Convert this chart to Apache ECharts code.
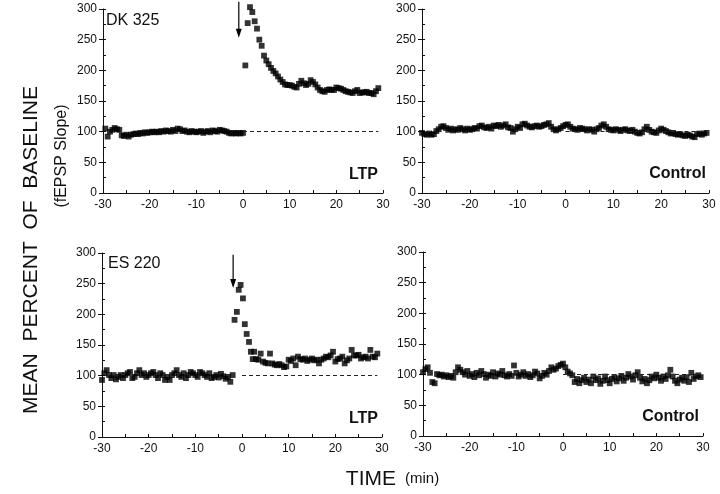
<!DOCTYPE html>
<html><head><meta charset="utf-8">
<script src="https://cdn.jsdelivr.net/npm/echarts@6/dist/echarts.min.js"></script>
<style>html,body{margin:0;padding:0;background:#fff}#c{width:720px;height:494px}</style>
</head><body><div id="c"></div>
<script>
// ---- data (MEAN PERCENT OF BASELINE, fEPSP slope; one sample every 30 s) ----
const sampleStepMin = 0.5;
const yTickValues = [0, 50, 100, 150, 200, 250, 300];
const timeTickValues = [-30, -20, -10, 0, 10, 20, 30];
const panelNames = ['DK 325', 'ES 220'];
const conditionNames = ['LTP', 'Control'];
const baselineRef = 100;

// DK 325 LTP
const dkBaselineStart = -29.5;
const dkBaseline = [105, 92, 100, 103, 106, 104, 103, 94, 93, 95,
  92, 95, 96, 97, 96, 98, 97, 99, 98, 99,
  100, 99, 100, 99, 101, 100, 102, 101, 100, 103,
  101, 105, 104, 101, 102, 100, 99, 101, 100, 99,
  100, 101, 98, 100, 101, 99, 102, 101, 100, 103,
  102, 101, 100, 98, 97, 98, 97, 98, 97, 98];
const dkPostStart = 0.5;
const dkPost = [208, 277, 303, 295, 280, 268, 250, 240, 224, 216, 210, 204, 199, 195, 190, 185, 181,
  177, 176, 176, 175, 173, 172, 178, 183, 179, 176, 178, 184, 181, 177, 172, 168, 166, 165, 168, 169,
  168, 168, 172, 171, 170, 168, 166, 165, 164, 163, 166, 168, 163, 164, 164, 165, 163, 163, 161, 166, 171];
const dkArrow = [-0.9, 312, 253]; // time, top value, tip value

// DK 325 Control
const dkControlStart = -30;
const dkControl = [98, 96, 95, 97, 95, 96,
  101, 104, 108, 109, 106,
  103, 105, 102, 104, 103, 106, 104, 102, 105, 103, 104, 106, 105,
  109, 110, 107, 106, 108, 105,
  110, 109, 111, 108, 110, 112, 107, 106, 100,
  104, 108, 106,
  112, 113, 110,
  108, 107, 109, 110, 108, 109, 111, 112,
  114, 108, 104,
  102, 104, 106,
  109, 111, 112, 108,
  105, 104, 103, 106, 105, 104, 102, 104,
  103, 100, 104,
  106, 110, 112,
  108, 104, 103, 102, 104, 103, 101, 103,
  104, 102, 101, 103,
  100, 98, 97, 99,
  104, 108,
  103, 100, 99, 98,
  102, 105, 103, 101,
  99, 97, 98, 96,
  95, 96, 94, 93, 95, 94,
  92, 91,
  96, 97, 95, 97, 98];

// ES 220 LTP
const esBaselineStart = -30;
const esBaseline = [93, 104, 109, 101, 96, 101, 94, 98, 101, 96,
  101, 104, 106, 96, 98, 104, 109, 101, 104, 98,
  101, 104, 106, 101, 96, 104, 101, 93, 98, 93,
  101, 104, 109, 101, 98, 104, 96, 101, 106, 104,
  101, 98, 106, 104, 101, 98, 104, 96, 98, 101,
  97, 103, 99, 95, 98, 90, 101];
const esPeak = [[-1.6, 191], [-1.1, 204], [-0.7, 240], [-0.3, 248], [0.2, 226], [0.6, 184],
  [1.0, 168], [1.5, 155], [1.9, 139], [2.3, 127], [2.6, 139]];
const esPostStart = 3.0;
const esPost = [127, 126, 136, 123, 121, 120, 136, 120, 118, 117,
  119, 117, 114, 115, 126, 124, 128, 117, 131, 127,
  126, 128, 124, 126, 128, 125, 126, 120, 126, 128,
  131, 130, 133, 139, 123, 127, 128, 131, 120, 125,
  128, 142, 133, 133, 134, 128, 130, 131, 128, 142,
  131, 130, 136];
const esArrow = [-1.9, 297, 243];

// ES 220 Control
const esControlStart = -30;
const esControl = [104, 109, 112, 103, 88, 86, 101, 99, 100, 97,
  99, 96, 98, 95, 104, 112, 108, 104, 100, 106,
  98, 101, 96, 103, 99, 106, 101, 95, 100, 98,
  104, 97, 102, 100, 106, 99, 97, 101, 98, 115,
  103, 97, 100, 104, 98, 101, 96, 99, 105, 102,
  94, 98, 103, 100, 106, 112, 108, 110, 114, 116,
  118, 112, 105, 102, 99, 88, 93, 86, 91, 95,
  88, 92, 86, 97, 91, 94, 85, 90, 97, 91,
  86, 93, 96, 89, 94, 98, 90, 95, 101, 97,
  92, 99, 104, 95, 89, 93, 86, 91, 97, 94,
  100, 95, 90, 97, 93, 99, 108, 97, 90, 86,
  92, 95, 90, 96, 88, 103, 93, 97, 99, 96];

// ---- build ----
function series(start, vals) { return vals.map((v, i) => [start + i * sampleStepMin, v]); }

const FONT = '"Liberation Sans", Arial, Helvetica, sans-serif';
const INK = '#111';
const grids = [
  { left: 103, top: 9, width: 280, height: 184 },
  { left: 422, top: 9, width: 287, height: 184 },
  { left: 102, top: 253, width: 280, height: 184 },
  { left: 423, top: 252, width: 280, height: 184 }
];

const xAxes = grids.map((g, i) => ({
  type: 'value', gridIndex: i, min: timeTickValues[0], max: timeTickValues[timeTickValues.length - 1], interval: 10,
  axisLine: { show: true, onZero: false, lineStyle: { color: INK, width: 1 } },
  axisTick: { show: true, inside: true, length: 3, lineStyle: { color: INK } },
  minorTick: { show: true, splitNumber: 2, length: 3, lineStyle: { color: INK } },
  splitLine: { show: false },
  axisLabel: { color: INK, fontSize: 12, fontFamily: FONT, margin: 6 }
}));
const yAxes = [];
grids.forEach((g, i) => {
  yAxes.push({
    type: 'value', gridIndex: i, position: 'left', min: yTickValues[0], max: yTickValues[yTickValues.length - 1], interval: 50,
    axisLine: { show: true, onZero: false, lineStyle: { color: INK, width: 1 } },
    axisTick: { show: true, inside: false, length: 4, lineStyle: { color: INK } },
    splitLine: { show: false },
    axisLabel: { color: INK, fontSize: 12, fontFamily: FONT, margin: 6 }
  });
  yAxes.push({
    type: 'value', gridIndex: i, position: 'left', offset: 0, min: 0, max: 300, interval: 25,
    axisLine: { show: false, onZero: false }, axisLabel: { show: false }, splitLine: { show: false },
    axisTick: { show: true, inside: true, length: 3, lineStyle: { color: INK } }
  });
});

const dot = { type: 'scatter', symbol: 'rect', symbolSize: 5.8, itemStyle: { color: '#000' }, clip: false, silent: true, animation: false };
const refLine = (endT) => ({
  silent: true, animation: false, symbol: ['none', 'none'], label: { show: false },
  lineStyle: { type: [4, 3], color: '#222', width: 1 },
  data: [[{ coord: [0, baselineRef] }, { coord: [endT, baselineRef] }]]
});
function arrowSeries(xi, yi, a) {
  return {
    type: 'custom', xAxisIndex: xi, yAxisIndex: yi, clip: false, silent: true, animation: false,
    data: [a], encode: { x: 0, y: [1, 2] },
    renderItem: function (params, api) {
      const p1 = api.coord([api.value(0), api.value(1)]);
      const p2 = api.coord([api.value(0), api.value(2)]);
      return { type: 'group', children: [
        { type: 'line', shape: { x1: p1[0], y1: p1[1], x2: p2[0], y2: p2[1] - 4 }, style: { stroke: '#000', lineWidth: 1.2 } },
        { type: 'polygon', shape: { points: [[p2[0] - 3, p2[1] - 9], [p2[0] + 3, p2[1] - 9], [p2[0], p2[1]]] }, style: { fill: '#000' } }
      ] };
    }
  };
}

const seriesList = [
  Object.assign({}, dot, { xAxisIndex: 0, yAxisIndex: 0, data: series(dkBaselineStart, dkBaseline), markLine: refLine(29) }),
  Object.assign({}, dot, { xAxisIndex: 0, yAxisIndex: 0, data: series(dkPostStart, dkPost) }),
  arrowSeries(0, 0, dkArrow),
  Object.assign({}, dot, { xAxisIndex: 1, yAxisIndex: 2, data: series(dkControlStart, dkControl), markLine: refLine(29.5), z: 3 }),
  Object.assign({}, dot, { xAxisIndex: 2, yAxisIndex: 4, data: series(esBaselineStart, esBaseline), markLine: refLine(29) }),
  Object.assign({}, dot, { xAxisIndex: 2, yAxisIndex: 4, data: esPeak }),
  Object.assign({}, dot, { xAxisIndex: 2, yAxisIndex: 4, data: series(esPostStart, esPost) }),
  arrowSeries(2, 4, esArrow),
  Object.assign({}, dot, { xAxisIndex: 3, yAxisIndex: 6, data: series(esControlStart, esControl), markLine: refLine(29.5) })
];

function txt(text, x, y, size, weight, align, vAlign, rot) {
  const el = { type: 'text', x: x, y: y, silent: true,
    style: { text: text, fontSize: size, fontFamily: FONT, fontWeight: weight || 'normal', fill: INK,
      align: align || 'left', textAlign: align || 'left', verticalAlign: vAlign || 'top', textVerticalAlign: vAlign || 'top' } };
  if (rot) el.rotation = rot;
  return el;
}

const graphics = [
  txt(panelNames[0], 106, 13, 16),
  txt(panelNames[1], 108, 256, 16),
  txt(conditionNames[0], 378, 167, 16, 'bold', 'right'),
  txt(conditionNames[1], 706, 166, 16, 'bold', 'right'),
  txt(conditionNames[0], 378, 411, 16, 'bold', 'right'),
  txt(conditionNames[1], 699, 409, 16, 'bold', 'right'),
  txt('MEAN  PERCENT  OF  BASELINE', 31, 250, 21, 'normal', 'center', 'middle', Math.PI / 2),
  txt('(fEPSP Slope)', 62, 156, 16, 'normal', 'center', 'middle', Math.PI / 2),
  txt('TIME', 396, 479, 21, 'normal', 'right', 'middle'),
  txt('(min)', 405, 479, 15, 'normal', 'left', 'middle')
];

const chart = echarts.init(document.getElementById('c'), null, { renderer: 'canvas' });
chart.setOption({
  animation: false,
  backgroundColor: '#fff',
  textStyle: { fontFamily: FONT },
  grid: grids,
  xAxis: xAxes,
  yAxis: yAxes,
  series: seriesList,
  graphic: graphics
});
</script></body></html>
